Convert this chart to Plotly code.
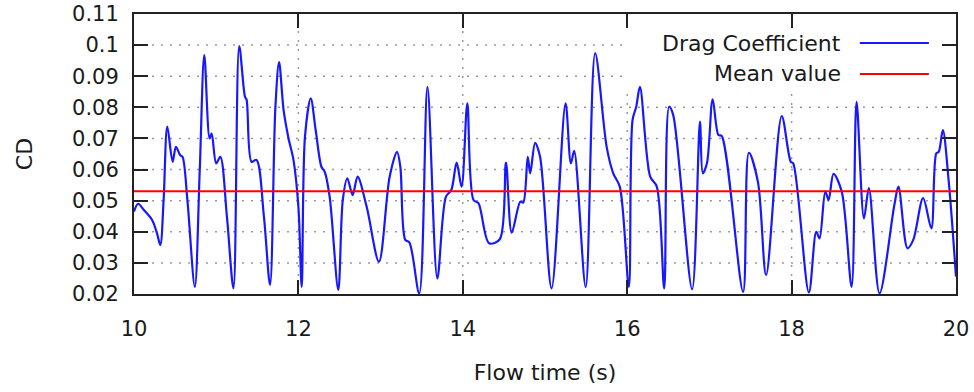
import plotly.graph_objects as go

# ---- data ----
flow_time = [
    10.00, 10.05, 10.12, 10.22, 10.28, 10.32, 10.36, 10.405, 10.47, 10.51, 10.56, 10.59, 10.65, 10.74, 10.80,
    10.855, 10.92, 10.945, 11.00, 11.05, 11.13, 11.21, 11.28, 11.35, 11.37, 11.43, 11.49, 11.58, 11.655, 11.72,
    11.765, 11.82, 11.88, 11.94, 12.00, 12.04, 12.08, 12.15, 12.21, 12.28, 12.32, 12.38, 12.485, 12.54, 12.595,
    12.66, 12.72, 12.83, 12.98, 13.11, 13.20, 13.24, 13.30, 13.35, 13.47, 13.57, 13.69, 13.795, 13.86, 13.925,
    13.985, 14.055, 14.13, 14.19, 14.32, 14.45, 14.525, 14.595, 14.70, 14.735, 14.79, 14.82, 14.88, 14.94, 15.08,
    15.25, 15.315, 15.355, 15.495, 15.61, 15.75, 15.83, 15.91, 16.02, 16.065, 16.11, 16.155, 16.28, 16.36, 16.45,
    16.51, 16.56, 16.79, 16.885, 16.92, 16.97, 17.04, 17.11, 17.15, 17.41, 17.48, 17.59, 17.69, 17.88, 17.99,
    18.02, 18.21, 18.30, 18.34, 18.41, 18.45, 18.51, 18.61, 18.73, 18.79, 18.88, 18.94, 19.07, 19.25, 19.30,
    19.41, 19.48, 19.60, 19.70, 19.76, 19.79, 19.84, 19.91, 20.00,
]
drag_coefficient = [
    0.0465, 0.0490, 0.0470, 0.0438, 0.0395, 0.0357, 0.0500, 0.0738, 0.0625, 0.0673, 0.0647, 0.0641, 0.0500, 0.0223, 0.0600,
    0.0968, 0.0700, 0.0716, 0.0620, 0.0641, 0.0450, 0.0218, 0.0997, 0.0834, 0.0824, 0.0625, 0.0631, 0.0450, 0.0229, 0.0800,
    0.0945, 0.0791, 0.0700, 0.0631, 0.0480, 0.0223, 0.0706, 0.0829, 0.0727, 0.0609, 0.0593, 0.0513, 0.0213, 0.0502, 0.0572,
    0.0518, 0.0577, 0.0481, 0.0304, 0.0577, 0.0657, 0.0609, 0.0374, 0.0366, 0.0202, 0.0866, 0.0250, 0.0513, 0.0534, 0.0622,
    0.0545, 0.0813, 0.0502, 0.0492, 0.0363, 0.0376, 0.0622, 0.0397, 0.0497, 0.0494, 0.0641, 0.0588, 0.0686, 0.0641, 0.0218,
    0.0813, 0.0620, 0.0660, 0.0222, 0.0974, 0.0673, 0.0588, 0.0545, 0.0223, 0.0759, 0.0802, 0.0866, 0.0577, 0.0545, 0.0218,
    0.0802, 0.0775, 0.0215, 0.0754, 0.0588, 0.0620, 0.0826, 0.0711, 0.0708, 0.0207, 0.0654, 0.0561, 0.0261, 0.0772, 0.0625,
    0.0620, 0.0205, 0.0400, 0.0379, 0.0529, 0.0502, 0.0586, 0.0529, 0.0223, 0.0818, 0.0443, 0.0540, 0.0202, 0.0486, 0.0545,
    0.0347, 0.0374, 0.0508, 0.0411, 0.0652, 0.0657, 0.0727, 0.0566, 0.0256,
]
mean_value = 0.053

x_ticks = [10, 12, 14, 16, 18, 20]
y_ticks = [0.02, 0.03, 0.04, 0.05, 0.06, 0.07, 0.08, 0.09, 0.10, 0.11]
y_tick_labels = ["0.02", "0.03", "0.04", "0.05", "0.06", "0.07", "0.08", "0.09", "0.1", "0.11"]
series_names = ["Drag Coefficient", "Mean value"]
series_colors = ["#1818ff", "#ff0000"]

FONT = "DejaVu Sans"
TEXT = "#1a1a1a"
GRID = dict(color="#9a9a9a", width=1.5, dash="2px,7px")
# key area (where the grid is not drawn), in data units
KEY_LEFT = 15.95
KEY_BOTTOM = 0.0862

fig = go.Figure()
fig.add_trace(go.Scatter(
    x=flow_time, y=drag_coefficient, mode="lines", name=series_names[0],
    line=dict(color=series_colors[0], width=2.2, shape="spline", smoothing=0.9),
    showlegend=False,
))
fig.add_trace(go.Scatter(
    x=[x_ticks[0], x_ticks[-1]], y=[mean_value, mean_value], mode="lines", name=series_names[1],
    line=dict(color=series_colors[1], width=2), showlegend=False,
))

axis_common = dict(
    showline=True, linecolor="#222222", linewidth=2, mirror="ticks",
    ticks="inside", ticklen=14, tickwidth=2, tickcolor="#222222",
    showgrid=False, zeroline=False, automargin=False, ticklabeloverflow="allow",
    tickfont=dict(family=FONT, size=21, color=TEXT),
)

fig.update_xaxes(
    range=[x_ticks[0], x_ticks[-1]], tickvals=x_ticks, ticklabelstandoff=15,
    title=dict(text="Flow time (s)", font=dict(family=FONT, size=22, color=TEXT), standoff=24),
    **axis_common,
)
fig.update_yaxes(
    range=[y_ticks[0], y_ticks[-1]], tickvals=y_ticks, ticktext=y_tick_labels, ticklabelstandoff=9,
    title=dict(text="CD", font=dict(family=FONT, size=22, color=TEXT), standoff=33),
    **axis_common,
)

# dotted grid, interrupted by the key area as in the original
for yv in y_ticks[1:-1]:
    x_end = KEY_LEFT if yv > KEY_BOTTOM else x_ticks[-1]
    fig.add_shape(type="line", x0=x_ticks[0], x1=x_end, y0=yv, y1=yv, line=GRID, layer="below")
for xv in x_ticks[1:-1]:
    y_end = KEY_BOTTOM if xv > KEY_LEFT else y_ticks[-1]
    fig.add_shape(type="line", x0=xv, x1=xv, y0=y_ticks[0], y1=y_end, line=GRID, layer="below")

# key: text on the left, sample line on the right
key_y = [0.896, 0.786]
for name, color, ky in zip(series_names, series_colors, key_y):
    fig.add_annotation(xref="paper", yref="paper", x=0.8625, y=ky, text=name, showarrow=False,
                       xanchor="right", yanchor="middle", font=dict(family=FONT, size=22, color=TEXT))
    fig.add_shape(type="line", xref="paper", yref="paper", x0=0.883, x1=0.967, y0=ky, y1=ky,
                  line=dict(color=color, width=2), layer="above")

fig.update_layout(
    width=974, height=392,
    margin=dict(l=134, r=18, t=14, b=98),
    plot_bgcolor="white", paper_bgcolor="white",
    font=dict(family=FONT, color=TEXT),
)

# remove the page's default 8 px body margin so the figure fills the window
fig.write_html("out.html", config={"displayModeBar": False},
               post_script="document.body.style.margin='0';")
